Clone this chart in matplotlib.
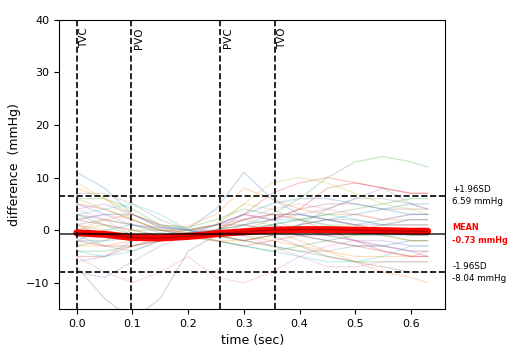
import numpy as np
import matplotlib
matplotlib.use("Agg")
import matplotlib.pyplot as plt

# sample times (sec)
t = [0, 0.05, 0.1, 0.15, 0.2, 0.25, 0.3, 0.35, 0.4, 0.45, 0.5, 0.55, 0.6, 0.63]

# individual difference curves (mmHg)
curves = [
    [11, 8, 3, 0.5, 0.3, 4, 11, 6, 3, 2, 1, 2, 3, 3],
    [8, 6, 3, 0.8, 0.8, 3, 8, 6, 4, 3, 3, 2, 2, 2],
    [6, 6, 4, 1, 0.5, 2, 4, 3, 6, 10, 13, 14, 13, 12],
    [5, 4, 2, 0, -0.5, 1, 3, 2, 4, 8, 9, 8, 7, 7],
    [4, 5, 3, 0.5, 0, 0, 1, 2, 3, 4, 6, 8, 5, 4],
    [3, 2, 1, 0, -1, -1, 0, 2, 4, 5, 5, 4, 4, 4],
    [2, 3, 2, 0, -0.5, 0, 2, 4, 5, 4, 3, 2, 3, 3],
    [1, 2, 1, -0.5, -1, -1, 1, 3, 3, 2, 2, 1, 1, 1],
    [0, 1, 0, -1, -1, 0, 2, 1, 0, -1, -1, 0, 0, 0],
    [-1, -1, -1, -1, -1.5, -1, 0, 1, 2, 3, 2, 1, 2, 2],
    [-2, -2, -1.5, -1, -1, -0.5, 0, 0, -1, -2, -3, -3, -2, -2],
    [-3, -3, -2, -1, -1, -1, -1, -2, -3, -4, -5, -5, -5, -4],
    [-4, -4, -3, -1.5, -1, -1, -2, -3, -4, -5, -6, -6, -6, -6],
    [-5, -5, -3, -2, -1.5, -2, -3, -2, -1, -2, -3, -4, -5, -5],
    [-6, -5, -2, -1, -1, -1, 0, 1, 0, -1, -2, -2, -3, -3],
    [-7, -13, -17, -13, -4, -1, 0, -1, -3, -5, -6, -7, -8, -8],
    [-5, -8, -10, -8, -5, -9, -10, -8, -5, -3, -2, -3, -4, -4],
    [7, 7, 5, 2, 0, -1, -2, -1, 1, 4, 6, 6, 5, 4],
    [9, 6, 2, 0, 0, 1, 5, 4, 2, 1, 1, 0, -1, -1],
    [3, 4, 5, 3, 0, -2, -3, -4, -5, -6, -6, -5, -3, -3],
    [-2, 0, 1, 0.5, 0, 1, 3, 5, 6, 6, 5, 4, 3, 3],
    [1, 0, -1, -1.5, -1, 0, 1, 0, -2, -4, -6, -8, -9, -10],
    [-3, -2, 0, 0, -1, -2, -3, -4, -3, -2, -1, -1, -2, -2],
    [2, 1, 0, -1, -1, 0, 3, 7, 9, 10, 9, 8, 7, 7],
    [5, 3, 1, 0, 0, 1, 2, 3, 3, 2, 1, 1, 2, 2],
    [0, -1, -2, -1, 0, 1, 1, 0, -1, -1, 0, 1, 1, 1],
    [4, 2, -1, -2, -1, 0, -1, -3, -5, -7, -7, -6, -6, -6],
    [-1, -3, -4, -2, -1, -1, -2, -3, -4, -4, -3, -3, -4, -4],
    [6, 4, 2, 0, 0, 1, 5, 9, 10, 9, 7, 5, 4, 3],
    [-4, -5, -4, -2, -0.5, 0, 1, 2, 2, 1, 0, -1, -1, -1],
    [2, 3, 3, 1, 0, -1, -1, 0, 1, 2, 3, 4, 5, 5],
    [0, 2, 3, 1, -1, -2, -2, -1, 0, 0, 0, -1, -2, -2],
    [3, 1, -1, -1, -0.5, 0, 0, 1, 2, 3, 4, 5, 6, 6],
    [-2, -3, -3, -2, -1, 0, 2, 3, 2, 0, -2, -4, -5, -5],
    [-8, -9, -6, -3, -1, 1, 3, 2, 0, -1, -2, -3, -4, -5],
    [1, -1, -2, -1, -0.5, -1, -2, -1, 1, 2, 1, 0, -1, -1],
]

mean_curve = [-0.5, -0.8, -1.4, -1.5, -1.2, -0.7, -0.3, 0.0, 0.1, 0.1, 0.0, -0.1, -0.2, -0.2]

mean_val = -0.73
upper = 6.59
lower = -8.04

events = ["TVC", "PVO", "PVC", "TVO"]
event_times = [0.0, 0.098, 0.258, 0.356]

fig = plt.figure(figsize=(5.1, 3.48), dpi=100)
ax = fig.add_axes([0.116, 0.112, 0.757, 0.831])

colors = plt.rcParams['axes.prop_cycle'].by_key()['color']
for i, c in enumerate(curves):
    ax.plot(t, c, color=colors[i % len(colors)], alpha=0.25, lw=0.9,
            solid_joinstyle='round')

ax.plot(t, mean_curve, color='red', lw=5, solid_capstyle='round', zorder=5)
ax.plot(t, mean_curve, color='#8b0000', lw=1, alpha=0.6, zorder=5)
ax.axhline(mean_val, color='black', lw=1.2, alpha=0.8, zorder=6)
ax.axhline(upper, color='black', ls='--', lw=1.2, zorder=6)
ax.axhline(lower, color='black', ls='--', lw=1.2, zorder=6)

for name, et in zip(events, event_times):
    ax.axvline(et, color='black', ls='--', lw=1.2, zorder=6)
    ax.text(et + 0.004, 38.5, name, rotation=90, va='top', ha='left', fontsize=7.5)

ax.set_xlim(-0.0315, 0.6615)
ax.set_ylim(-15, 40)
ax.set_xticks([0.0, 0.1, 0.2, 0.3, 0.4, 0.5, 0.6])
ax.set_yticks([-10, 0, 10, 20, 30, 40])
ax.tick_params(labelsize=8)
ax.set_xlabel("time (sec)", fontsize=9)
ax.set_ylabel("difference  (mmHg)", fontsize=9)

tr = ax.get_yaxis_transform()
ax.text(1.018, upper, "+1.96SD\n6.59 mmHg", transform=tr, va='center', ha='left',
        fontsize=6.3, linespacing=1.5)
ax.text(1.018, mean_val, "MEAN\n-0.73 mmHg", transform=tr, va='center', ha='left',
        fontsize=5.9, color='red', fontweight='bold', linespacing=1.6)
ax.text(1.018, lower, "-1.96SD\n-8.04 mmHg", transform=tr, va='center', ha='left',
        fontsize=6.3, linespacing=1.5)

fig.savefig("out.png", dpi=100)
